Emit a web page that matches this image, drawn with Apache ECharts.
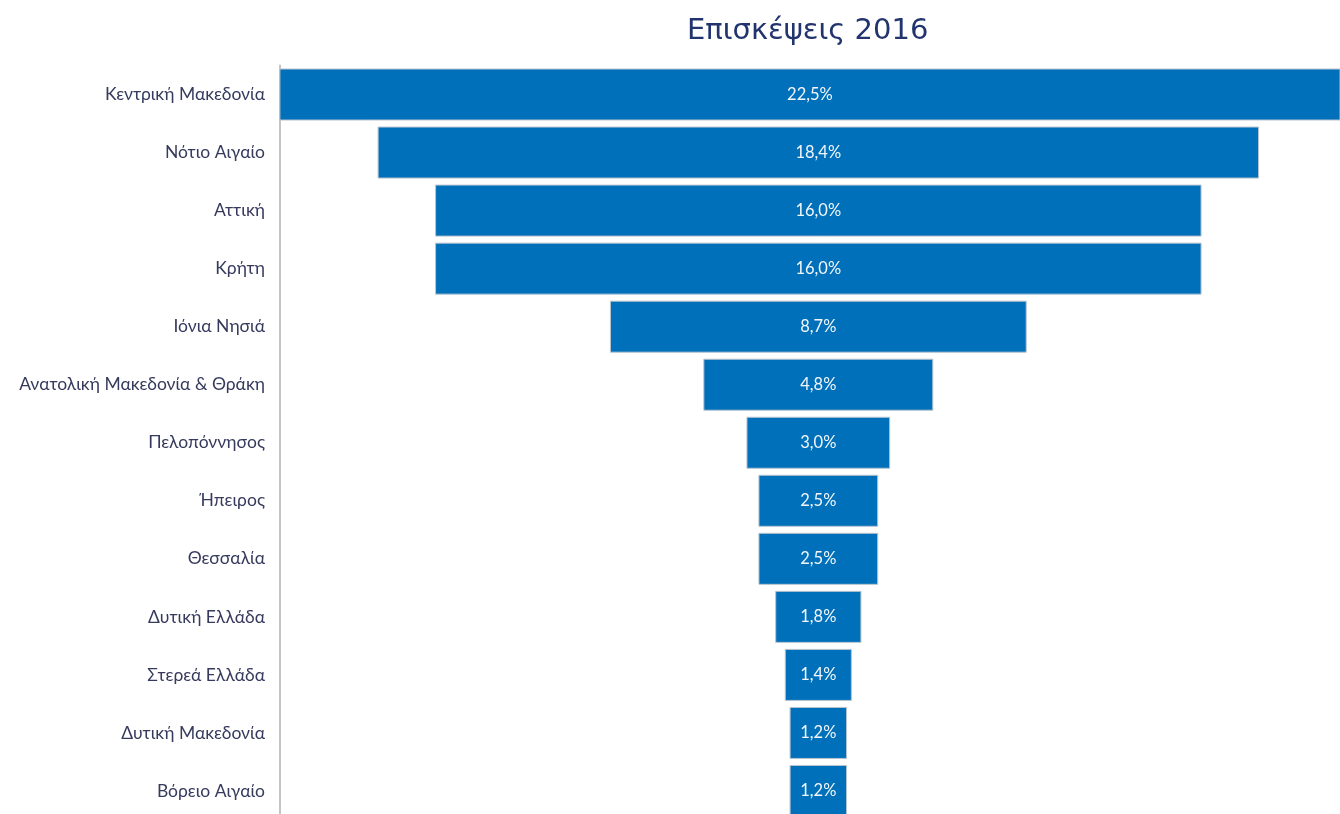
<!DOCTYPE html>
<html>
<head>
<meta charset="utf-8">
<script src="https://cdn.jsdelivr.net/npm/echarts@6/dist/echarts.min.js"></script>
<style>html,body{margin:0;padding:0;background:#fff;overflow:hidden;width:1340px;height:814px}#c{width:1340px;height:830px}</style>
</head>
<body>
<div id="c"></div>
<script>
const titleText = 'Επισκέψεις 2016';
const categories = ['Κεντρική Μακεδονία','Νότιο Αιγαίο','Αττική','Κρήτη','Ιόνια Νησιά','Ανατολική Μακεδονία & Θράκη','Πελοπόννησος','Ήπειρος','Θεσσαλία','Δυτική Ελλάδα','Στερεά Ελλάδα','Δυτική Μακεδονία','Βόρειο Αιγαίο'];
const values = [22.5, 18.4, 16.0, 16.0, 8.7, 4.8, 3.0, 2.5, 2.5, 1.8, 1.4, 1.2, 1.2];

const maxVal = Math.max(...values);
const offsets = values.map(v => (maxVal - v) / 2);

const chart = echarts.init(document.getElementById('c'));
chart.setOption({
  animation: false,
  backgroundColor: '#fff',
  title: {
    text: titleText,
    left: 682, top: 12,
    textStyle: {fontFamily: 'DejaVu Sans', fontSize: 29, fontWeight: 'normal', color: '#22346e'}
  },
  grid: {left: 277, top: 65.5, width: 1063, height: 754.5, containLabel: false},
  xAxis: {
    type: 'value', min: -0.05, max: 22.14, show: false
  },
  yAxis: {
    type: 'category', data: categories, inverse: true,
    axisLine: {show: true, lineStyle: {color: '#c4c4c4', width: 2}},
    axisTick: {show: false},
    axisLabel: {fontFamily: 'Lato', fontSize: 17.5, color: '#363b5e', margin: 12}
  },
  series: [
    {
      type: 'bar', stack: 'f', data: offsets, barWidth: 52,
      itemStyle: {color: 'transparent'}, silent: true
    },
    {
      type: 'bar', stack: 'f', data: values, barWidth: 52,
      itemStyle: {color: '#0070ba', borderColor: '#b8c4cf', borderWidth: 1},
      label: {
        show: true, position: 'inside', color: '#f2f6fa',
        fontFamily: 'Lato', fontSize: 16.5,
        formatter: p => values[p.dataIndex].toFixed(1).replace('.', ',') + '%'
      }
    }
  ]
});
</script>
</body>
</html>
